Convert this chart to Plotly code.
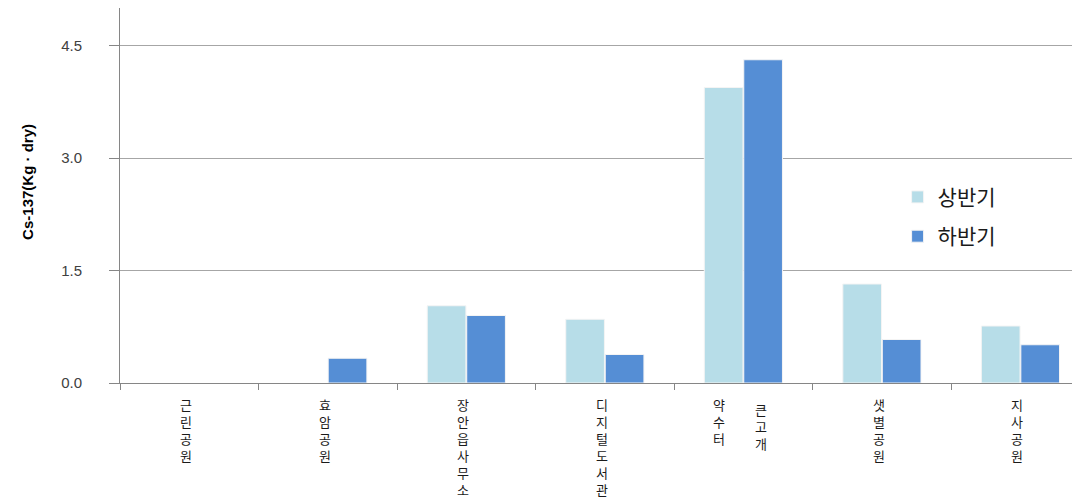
import plotly.graph_objects as go

categories = ["근린공원", "효암공원", "장안읍사무소", "디지털도서관", "약수터 큰고개", "샛별공원", "지사공원"]
first_half = [None, None, 1.03, 0.85, 3.94, 1.32, 0.76]
second_half = [None, 0.33, 0.90, 0.38, 4.31, 0.58, 0.51]
series_names = ["상반기", "하반기"]
y_ticks = [0.0, 1.5, 3.0, 4.5]
y_tick_labels = ["0.0", "1.5", "3.0", "4.5"]
y_title = "Cs-137(Kg · dry)"

colors = ["#b7dde8", "#558ed5"]
KFONT = "Noto Sans CJK KR"

fig = go.Figure()
for i, (name, vals) in enumerate(zip(series_names, [first_half, second_half])):
    fig.add_trace(go.Bar(
        x=categories, y=vals, name=name, legendgroup=name,
        marker=dict(color=colors[i], line=dict(color="#f4f4f4", width=1)),
    ))

# vertical stacked category labels (one text per column, characters stacked)
annotations = []
for cat in categories:
    cols = cat.split(" ")
    if len(cols) == 1:
        xs, extra = [-3], [0]
    else:
        xs, extra = [-24, 18], [0, -5]
    for c, col in enumerate(cols):
        annotations.append(dict(
            x=cat, y=0, xref="x", yref="y", text="<br>".join(col), showarrow=False,
            xanchor="center", yanchor="top", xshift=xs[c],
            yshift=-10 + extra[c],
            font=dict(family=KFONT, size=13, color="#1a1a1a"),
        ))

annotations.append(dict(
    x=-0.097, y=0.536, xref="paper", yref="paper", text=y_title, showarrow=False,
    textangle=-90, xanchor="center", yanchor="middle",
    font=dict(family="Liberation Sans, Arial", size=15, color="#000000", weight="bold"),
))

fig.update_layout(
    width=1072, height=493,
    margin=dict(l=112, r=0, t=0, b=118),
    paper_bgcolor="white", plot_bgcolor="white",
    barmode="group", bargap=0.43, bargroupgap=0.02,
    annotations=annotations,
    legend=dict(
        x=0.81, y=0.55, xanchor="left", yanchor="top",
        font=dict(family=KFONT, size=21, color="#1a1a1a"),
        tracegroupgap=9, bgcolor="rgba(0,0,0,0)",
    ),
    xaxis=dict(
        type="category", range=[-0.5, 6.43], automargin=False,
        showticklabels=False, tickson="boundaries", ticks="outside", ticklen=6,
        tickcolor="#868686", showline=True, linecolor="#868686", linewidth=1,
        mirror=True, showgrid=False, zeroline=False,
    ),
    yaxis=dict(
        range=[0, 5.0], tickvals=y_ticks, ticktext=y_tick_labels, automargin=False,
        ticks="outside", ticklen=10, tickcolor="#868686",
        showline=True, linecolor="#868686", linewidth=1,
        showgrid=True, gridcolor="#a6a6a6", gridwidth=1, zeroline=False,
        ticklabelstandoff=24,
        tickfont=dict(family="Liberation Sans, Arial", size=15, color="#404040"),
    ),
)

fig.write_html("out.html")
